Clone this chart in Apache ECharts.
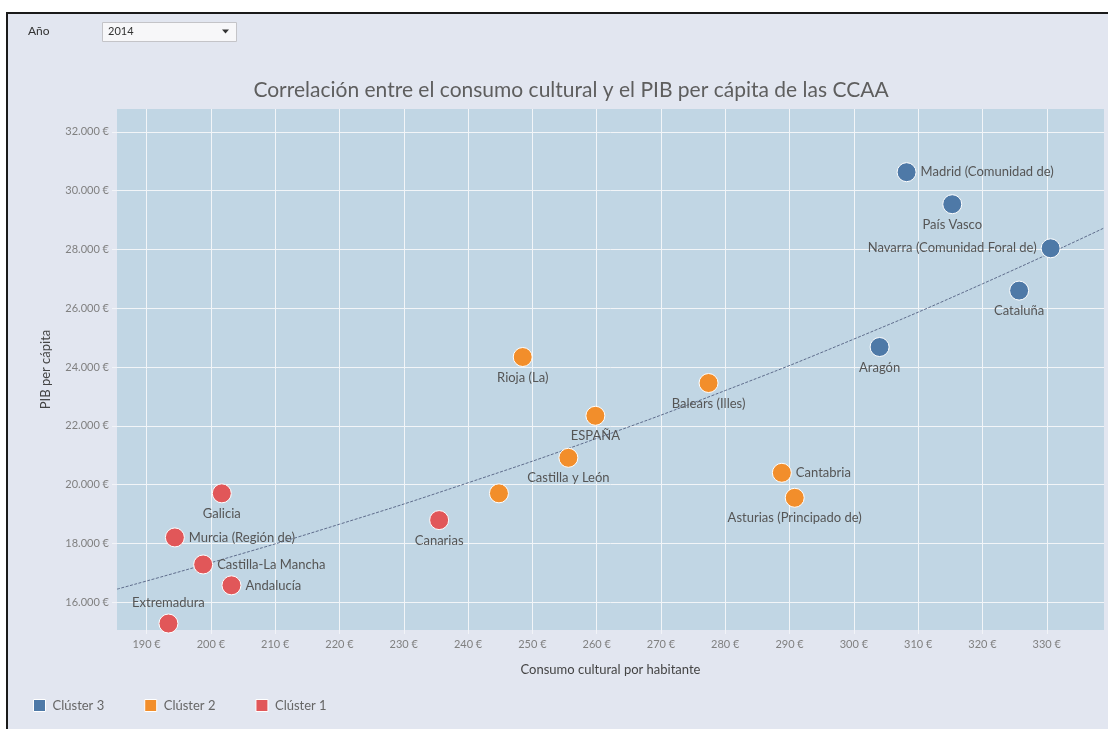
<!DOCTYPE html>
<html>
<head>
<meta charset="utf-8">
<title>Consumo cultural vs PIB per cápita</title>
<script src="https://cdn.jsdelivr.net/npm/echarts@6/dist/echarts.min.js"></script>
<style>
    html, body { margin: 0; padding: 0; background: #fff; }
    #graphic { width: 1108px; height: 729px; }
</style>
</head>
<body>
<div id="graphic"></div>
<script>
// data (año 2014)
var regiones = ['Madrid (Comunidad de)', 'País Vasco', 'Navarra (Comunidad Foral de)', 'Cataluña', 'Aragón',
    'Rioja (La)', 'Balears (Illes)', 'ESPAÑA', 'Castilla y León', 'Comunitat Valenciana', 'Cantabria',
    'Asturias (Principado de)', 'Canarias', 'Galicia', 'Murcia (Región de)', 'Castilla-La Mancha', 'Andalucía', 'Extremadura'];
var consumo = [308.2, 315.3, 330.6, 325.7, 304.0, 248.5, 277.4, 259.8, 255.6, 244.8, 288.8, 290.8, 235.5, 201.7, 194.4, 198.8, 203.2, 193.4];
var pib = [30630, 29540, 28040, 26600, 24680, 24340, 23455, 22340, 20910, 19700, 20400, 19550, 18790, 19700, 18200, 17280, 16570, 15270];
var cluster = [3, 3, 3, 3, 3, 2, 2, 2, 2, 2, 2, 2, 1, 1, 1, 1, 1, 1];

var clusterNames = ['Clúster 3', 'Clúster 2', 'Clúster 1'];
var clusterIds = [3, 2, 1];

// trend line, points
var trendX = [185.4, 200, 220, 240, 260, 280, 300, 320, 338.9];
var trendY = [16440, 17340, 18650, 20060, 21570, 23200, 24950, 26830, 28730];

var xTicks = [190, 200, 210, 220, 230, 240, 250, 260, 270, 280, 290, 300, 310, 320, 330];
var yTicks = [16000, 18000, 20000, 22000, 24000, 26000, 28000, 30000, 32000];

var anio = '2014';

(function () {
    var colors = ['#4e79a7', '#f28e2b', '#e15759'];
    var font = 'Lato, "Open Sans", sans-serif';

    // where each label sits relative to its point
    var labelPos = {
        'Madrid (Comunidad de)': 'right',
        'Navarra (Comunidad Foral de)': 'left',
        'Cantabria': 'right',
        'Murcia (Región de)': 'right',
        'Castilla-La Mancha': 'right',
        'Andalucía': 'right',
        'Extremadura': 'top'
    };
    var hiddenLabels = ['Comunitat Valenciana'];

    var fmtMiles = function (v) {
        return String(Math.round(v)).replace(/\B(?=(\d{3})+(?!\d))/g, '.') + ' €';
    };

    var series = [];
    for (var c = 0; c < clusterIds.length; c++) {
        var pts = [];
        for (var i = 0; i < regiones.length; i++) {
            if (cluster[i] !== clusterIds[c]) continue;
            var name = regiones[i];
            pts.push({
                name: name,
                value: [consumo[i], pib[i]],
                label: {
                    show: hiddenLabels.indexOf(name) < 0,
                    position: labelPos[name] || 'bottom'
                }
            });
        }
        series.push({
            name: clusterNames[c],
            type: 'scatter',
            symbolSize: 19,
            clip: false,
            itemStyle: { color: colors[c], borderColor: '#fff', borderWidth: 1, opacity: 1 },
            label: {
                formatter: '{b}',
                distance: 4,
                color: '#555',
                fontSize: 13,
                fontFamily: font
            },
            z: 3,
            data: pts
        });
    }

    var trend = [];
    for (var k = 0; k < trendX.length; k++) trend.push([trendX[k], trendY[k]]);
    series.unshift({
        name: 'tendencia',
        type: 'line',
        smooth: true,
        symbol: 'none',
        silent: true,
        lineStyle: { color: '#5f6d8c', width: 1, type: [3, 1.5] },
        z: 2,
        data: trend
    });

    var myChart = echarts.init(document.getElementById('graphic'));
    var option = {
        backgroundColor: '#fff',
        animation: false,
        textStyle: { fontFamily: font },
        title: {
            text: 'Correlación entre el consumo cultural y el PIB per cápita de las CCAA',
            left: 566,
            top: 75,
            textAlign: 'center',
            textStyle: { color: '#5e5e5e', fontSize: 21, fontWeight: 'normal', fontFamily: font }
        },
        graphic: [
            {
                type: 'rect', z: -10, silent: true,
                shape: { x: 7, y: 13, width: 1110, height: 730 },
                style: { fill: '#e2e6f0', stroke: '#1a1a1a', lineWidth: 2 }
            },
            {
                type: 'text', left: 28, top: 25,
                style: { text: 'Año', fill: '#333', fontSize: 12, fontFamily: font }
            },
            {
                type: 'rect',
                shape: { x: 102.5, y: 22.5, width: 134, height: 19 },
                style: { fill: '#f7f7f9', stroke: '#c4c4c8', lineWidth: 1 }
            },
            {
                type: 'text', left: 108, top: 26,
                style: { text: anio, fill: '#333', fontSize: 11, fontFamily: font }
            },
            {
                type: 'polygon',
                shape: { points: [[222, 29.5], [229, 29.5], [225.5, 33.5]] },
                style: { fill: '#333' }
            }
        ],
        legend: {
            left: 28,
            top: 694,
            icon: 'rect',
            itemWidth: 12,
            itemHeight: 12,
            itemGap: 40,
            itemStyle: { borderColor: '#fff', borderWidth: 1 },
            textStyle: { color: '#666', fontSize: 13, fontFamily: font, padding: [0, 0, 0, 2] },
            data: clusterNames
        },
        grid: {
            left: 117, right: 4, top: 109, bottom: 99,
            show: true,
            backgroundColor: '#c1d6e4',
            borderWidth: 0
        },
        xAxis: {
            type: 'value',
            min: 185.4,
            max: 338.9,
            name: 'Consumo cultural por habitante',
            nameLocation: 'middle',
            nameGap: 33,
            nameTextStyle: { color: '#444', fontSize: 13, fontFamily: font },
            axisLine: { show: false },
            axisTick: { show: true, length: 4, lineStyle: { color: '#f2f4f8' }, customValues: xTicks },
            axisLabel: {
                customValues: xTicks,
                margin: 9,
                color: '#808080',
                fontSize: 11,
                fontFamily: font,
                formatter: function (v) { return v + ' €'; }
            },
            splitLine: { show: true, lineStyle: { color: '#f2f5f8', width: 1 } }
        },
        yAxis: {
            type: 'value',
            min: 15050,
            max: 32780,
            name: 'PIB per cápita',
            nameLocation: 'middle',
            nameGap: 65,
            nameTextStyle: { color: '#444', fontSize: 13, fontFamily: font },
            axisLine: { show: false },
            axisTick: { show: true, length: 5, lineStyle: { color: '#f2f4f8' }, customValues: yTicks },
            axisLabel: {
                customValues: yTicks,
                margin: 8,
                color: '#808080',
                fontSize: 11,
                fontFamily: font,
                formatter: fmtMiles
            },
            splitLine: { show: true, lineStyle: { color: '#f2f5f8', width: 1 } }
        },
        series: series
    };

    myChart.setOption(option);
    window.onresize = myChart.resize;
})();
</script>
</body>
</html>
